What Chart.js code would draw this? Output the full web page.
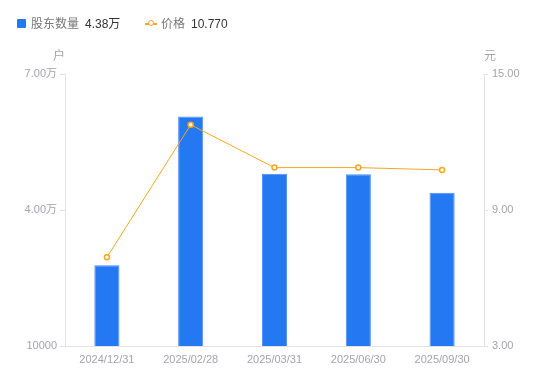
<!DOCTYPE html>
<html>
<head>
<meta charset="utf-8">
<script src="https://cdn.jsdelivr.net/npm/chart.js@4/dist/chart.umd.min.js"></script>
<style>
  html,body{margin:0;padding:0;background:#fff;}
  body{width:550px;height:381px;position:relative;overflow:hidden;font-family:'Liberation Sans','Noto Sans CJK SC',sans-serif;}
  #wrap{position:absolute;left:0;top:0;width:550px;height:381px;}
  #legend{position:absolute;left:0;top:15px;height:18px;font-size:12px;line-height:18px;white-space:nowrap;}
  .item{position:absolute;top:0;}
  .name{color:#777;}
  .val{color:#333;}
</style>
</head>
<body>
<div id="wrap"><canvas id="c" width="550" height="381"></canvas></div>
<div id="legend"></div>
<script>
const categories = ['2024/12/31','2025/02/28','2025/03/31','2025/06/30','2025/09/30'];
const holders = [27800, 60600, 48000, 47900, 43800];
const prices = [6.91, 12.76, 10.87, 10.87, 10.77];
const leftTickValues = [10000, 40000, 70000];
const leftTickLabels = ['10000', '4.00万', '7.00万'];
const rightTickValues = [3, 9, 15];
const rightTickLabels = ['3.00', '9.00', '15.00'];
const seriesNames = ['股东数量', '价格'];
const axisUnits = ['户', '元'];

const BLUE = '#2478f2';
const ORANGE = '#f5a623';
const TICK_COLOR = '#a3a3b0';
const AXIS_COLOR = '#e3e3e6';
const FONT = "'Liberation Sans','Noto Sans CJK SC',sans-serif";

// HTML legend built from data
const lg = document.getElementById('legend');
const lastHolder = holders[holders.length - 1];
const lastPrice = prices[prices.length - 1];
lg.innerHTML =
  '<div class="item" style="left:17px;top:4px;width:9px;height:9px;background:' + BLUE + ';border-radius:1px;"></div>' +
  '<div class="item name" style="left:31px;">' + seriesNames[0] + '</div>' +
  '<div class="item val" style="left:85px;">' + (lastHolder / 10000).toFixed(2) + '万</div>' +
  '<div class="item" style="left:145px;top:8px;width:12px;height:1.5px;background:' + ORANGE + ';"></div>' +
  '<div class="item" style="left:148px;top:5px;width:4px;height:4px;border:1.5px solid ' + ORANGE + ';border-radius:50%;background:#fff;"></div>' +
  '<div class="item name" style="left:161px;">' + seriesNames[1] + '</div>' +
  '<div class="item val" style="left:191px;">' + lastPrice.toFixed(3) + '</div>';

const unitPlugin = {
  id: 'units',
  afterDraw(chart) {
    const ctx = chart.ctx;
    const a = chart.chartArea;
    ctx.save();
    ctx.fillStyle = TICK_COLOR;
    ctx.font = '12px ' + FONT;
    ctx.textBaseline = 'middle';
    ctx.textAlign = 'center';
    ctx.fillText(axisUnits[0], a.left - 6, 57);
    ctx.fillText(axisUnits[1], a.right + 6, 57);
    ctx.restore();
  }
};

new Chart(document.getElementById('c'), {
  data: {
    labels: categories,
    datasets: [
      {
        type: 'line',
        label: seriesNames[1],
        data: prices,
        yAxisID: 'y1',
        borderColor: ORANGE,
        borderWidth: 1,
        pointRadius: 2.5,
        pointBorderWidth: 1.5,
        pointBackgroundColor: '#fff',
        pointBorderColor: ORANGE,
        tension: 0,
        order: 0
      },
      {
        type: 'bar',
        label: seriesNames[0],
        data: holders,
        yAxisID: 'y',
        backgroundColor: BLUE,
        borderColor: '#4a8ff5',
        borderWidth: {top: 1, left: 1, right: 1, bottom: 0},
        barPercentage: 0.3,
        categoryPercentage: 1,
        order: 1
      }
    ]
  },
  options: {
    responsive: false,
    animation: false,
    devicePixelRatio: 1,
    layout: { padding: { top: 74, left: 0, right: 0, bottom: 0 } },
    plugins: { legend: { display: false }, tooltip: { enabled: false } },
    scales: {
      x: {
        offset: true,
        grid: { display: false, drawTicks: false },
        border: { display: true, color: AXIS_COLOR, width: 1 },
        ticks: { color: TICK_COLOR, font: { size: 11, family: FONT }, padding: 7, maxRotation: 0, autoSkip: false },
        afterFit(s) { s.height = 35; }
      },
      y: {
        position: 'left',
        min: 10000, max: 70000,
        afterBuildTicks(s) { s.ticks = leftTickValues.map(v => ({ value: v })); },
        ticks: {
          color: TICK_COLOR, font: { size: 11, family: FONT }, padding: 3,
          callback(v) { const i = leftTickValues.indexOf(v); return i >= 0 ? leftTickLabels[i] : ''; }
        },
        grid: { drawOnChartArea: false, drawTicks: true, tickLength: 5, tickColor: AXIS_COLOR },
        border: { display: true, color: AXIS_COLOR, width: 1 },
        afterFit(s) { s.width = 65; }
      },
      y1: {
        position: 'right',
        min: 3, max: 15,
        afterBuildTicks(s) { s.ticks = rightTickValues.map(v => ({ value: v })); },
        ticks: {
          color: TICK_COLOR, font: { size: 11, family: FONT }, padding: 4,
          callback(v) { const i = rightTickValues.indexOf(v); return i >= 0 ? rightTickLabels[i] : ''; }
        },
        grid: { drawOnChartArea: false, drawTicks: true, tickLength: 4, tickColor: AXIS_COLOR },
        border: { display: true, color: AXIS_COLOR, width: 1 },
        afterFit(s) { s.width = 66; }
      }
    }
  },
  plugins: [unitPlugin]
});
</script>
</body>
</html>
